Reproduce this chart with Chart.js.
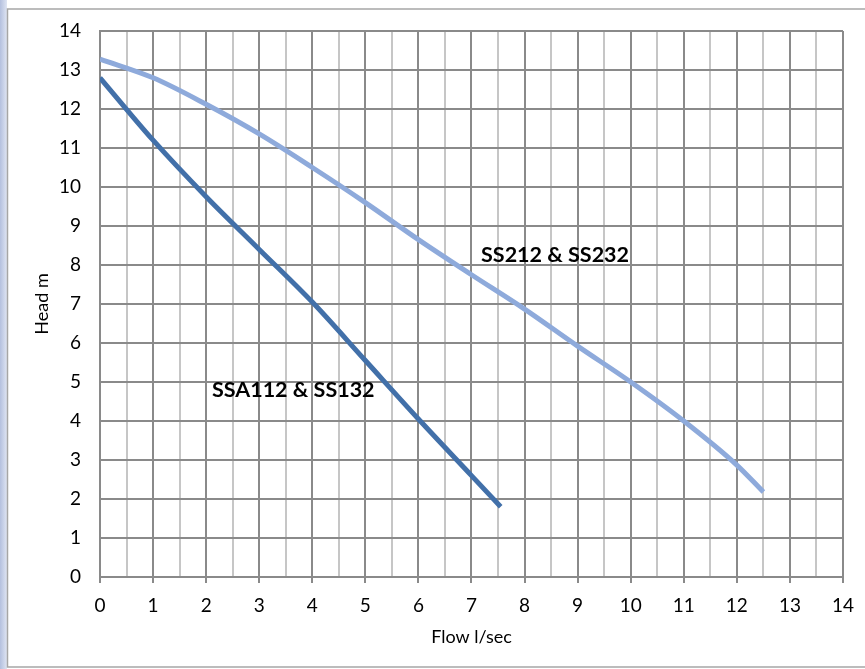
<!DOCTYPE html>
<html>
<head>
<meta charset="utf-8">
<script src="https://cdn.jsdelivr.net/npm/chart.js@4/dist/chart.umd.min.js"></script>
<style>
html,body{margin:0;padding:0;background:#fff;}
#wrap{position:relative;width:865px;height:669px;}
</style>
</head>
<body>
<div id="wrap"><canvas id="c" width="865" height="669"></canvas></div>
<script>
// Data
const flowA = [0, 1, 2, 3, 4, 5, 6, 7, 7.55];
const headA = [12.8, 11.2, 9.75, 8.4, 7.05, 5.55, 4.05, 2.6, 1.8];
const flowB = [0, 1, 2, 3, 4, 5, 6, 7, 8, 9, 10, 11, 12, 12.5];
const headB = [13.28, 12.8, 12.12, 11.36, 10.5, 9.6, 8.65, 7.75, 6.87, 5.92, 5.0, 4.0, 2.87, 2.18];
const seriesNames = ['SSA112 & SS132', 'SS212 & SS232'];
const xTitle = 'Flow l/sec';
const yTitle = 'Head m';

const FONT = "Lato, 'Open Sans', sans-serif";
const MAJOR = '#8a8a8a';
const MINOR = '#c6c6c6';

const toPts = (xs, ys) => xs.map((x, i) => ({x: x, y: ys[i]}));

const frame = {
  id: 'frame',
  beforeDraw(chart) {
    const c = chart.ctx;
    c.save();
    c.fillStyle = '#fff';
    c.fillRect(0, 0, chart.width, chart.height);
    const g = c.createLinearGradient(0, 0, 7, 0);
    g.addColorStop(0, '#b4c0de');
    g.addColorStop(1, '#dfe5f3');
    c.fillStyle = g;
    c.fillRect(0, 0, 7, chart.height);
    c.strokeStyle = '#a6a6a6';
    c.lineWidth = 1.5;
    c.strokeRect(7.5, 9, chart.width - 3, chart.height - 11);
    c.restore();
  }
};

const labels = {
  id: 'labels',
  afterDatasetsDraw(chart) {
    const c = chart.ctx, xs = chart.scales.x, ys = chart.scales.y;
    c.save();
    c.font = "bold 21.5px " + FONT;
    c.fillStyle = '#000';
    c.textAlign = 'left';
    c.textBaseline = 'middle';
    const anchors = [[2.11, 4.8], [7.18, 8.26]];
    seriesNames.forEach((n, i) => {
      c.fillText(n, xs.getPixelForValue(anchors[i][0]), ys.getPixelForValue(anchors[i][1]));
    });
    c.restore();
  }
};

new Chart(document.getElementById('c'), {
  type: 'scatter',
  data: {
    datasets: [
      {label: seriesNames[0], data: toPts(flowA, headA), showLine: true, borderColor: '#4270a9', borderWidth: 5, pointRadius: 0, cubicInterpolationMode: 'monotone', fill: false},
      {label: seriesNames[1], data: toPts(flowB, headB), showLine: true, borderColor: '#8eaadb', borderWidth: 5, pointRadius: 0, cubicInterpolationMode: 'monotone', fill: false}
    ]
  },
  options: {
    responsive: false,
    animation: false,
    devicePixelRatio: 1,
    layout: {padding: {left: 27, right: 22, top: 31, bottom: 17}},
    plugins: {legend: {display: false}, tooltip: {enabled: false}},
    scales: {
      x: {
        type: 'linear', min: 0, max: 14,
        afterFit(s) { s.height = 75; },
        ticks: {
          stepSize: 0.5, autoSkip: false, maxRotation: 0, padding: 11,
          color: '#000', font: {family: FONT, size: 19},
          callback: v => Number.isInteger(v) ? String(v) : ''
        },
        grid: {
          color: ctx => (ctx.tick && Number.isInteger(ctx.tick.value)) ? MAJOR : MINOR,
          tickColor: ctx => (ctx.tick && Number.isInteger(ctx.tick.value)) ? MAJOR : 'rgba(0,0,0,0)',
          lineWidth: 2, tickLength: 6, drawTicks: true
        },
        border: {color: MAJOR, width: 2},
        title: {display: true, text: xTitle, color: '#000', font: {family: FONT, size: 18}, padding: {top: 4, bottom: 4}}
      },
      y: {
        type: 'linear', min: 0, max: 14,
        afterFit(s) { s.width = 73; },
        ticks: {stepSize: 1, padding: 19, color: '#000', font: {family: FONT, size: 19}},
        grid: {color: MAJOR, lineWidth: 2, drawTicks: false},
        border: {color: MAJOR, width: 2},
        title: {display: true, text: yTitle, color: '#000', font: {family: FONT, size: 18}, padding: {top: 4, bottom: 4}}
      }
    }
  },
  plugins: [frame, labels]
});
</script>
</body>
</html>
